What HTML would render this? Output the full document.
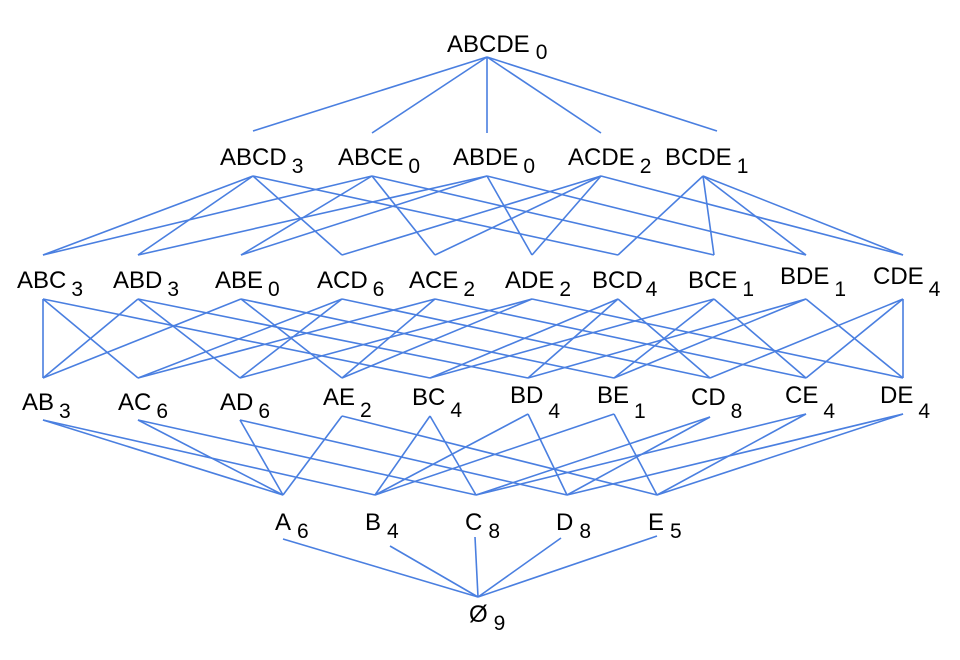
<!DOCTYPE html>
<html><head><meta charset="utf-8"><style>
html,body{margin:0;padding:0;background:#fff;}
svg{display:block;}
text{font-family:"Liberation Sans","DejaVu Sans",sans-serif;font-size:24px;fill:#000;}
.s{font-size:21px;}
line{stroke:#4a7fe0;stroke-width:1.6;}
</style></head><body>
<svg width="960" height="660" viewBox="0 0 960 660" xmlns="http://www.w3.org/2000/svg">
<g>
<line x1="487" y1="57" x2="253" y2="131"/><line x1="487" y1="57" x2="372" y2="133"/><line x1="487" y1="57" x2="487" y2="133"/><line x1="487" y1="57" x2="601" y2="133"/><line x1="487" y1="57" x2="717" y2="131"/>

<line x1="253" y1="176" x2="43" y2="255"/><line x1="253" y1="176" x2="138" y2="255"/><line x1="253" y1="176" x2="342" y2="255"/><line x1="253" y1="176" x2="618" y2="255"/>
<line x1="372" y1="176" x2="43" y2="255"/><line x1="372" y1="176" x2="241" y2="255"/><line x1="372" y1="176" x2="435" y2="255"/><line x1="372" y1="176" x2="714" y2="255"/>
<line x1="487" y1="176" x2="138" y2="255"/><line x1="487" y1="176" x2="241" y2="255"/><line x1="487" y1="176" x2="532" y2="255"/><line x1="487" y1="176" x2="806" y2="255"/>
<line x1="601" y1="176" x2="342" y2="255"/><line x1="601" y1="176" x2="435" y2="255"/><line x1="601" y1="176" x2="532" y2="255"/><line x1="601" y1="176" x2="903" y2="255"/>
<line x1="703" y1="176" x2="618" y2="255"/><line x1="703" y1="176" x2="714" y2="255"/><line x1="703" y1="176" x2="806" y2="255"/><line x1="703" y1="176" x2="903" y2="255"/>

<line x1="43" y1="299" x2="43" y2="378"/><line x1="43" y1="299" x2="138" y2="378"/><line x1="43" y1="299" x2="430" y2="378"/>
<line x1="138" y1="299" x2="43" y2="378"/><line x1="138" y1="299" x2="240" y2="378"/><line x1="138" y1="299" x2="528" y2="378"/>
<line x1="241" y1="299" x2="43" y2="378"/><line x1="241" y1="299" x2="342" y2="378"/><line x1="241" y1="299" x2="614" y2="378"/>
<line x1="342" y1="299" x2="138" y2="378"/><line x1="342" y1="299" x2="240" y2="378"/><line x1="342" y1="299" x2="710" y2="378"/>
<line x1="435" y1="299" x2="138" y2="378"/><line x1="435" y1="299" x2="342" y2="378"/><line x1="435" y1="299" x2="806" y2="378"/>
<line x1="532" y1="299" x2="240" y2="378"/><line x1="532" y1="299" x2="342" y2="378"/><line x1="532" y1="299" x2="903" y2="378"/>
<line x1="618" y1="299" x2="430" y2="378"/><line x1="618" y1="299" x2="528" y2="378"/><line x1="618" y1="299" x2="710" y2="378"/>
<line x1="714" y1="299" x2="430" y2="378"/><line x1="714" y1="299" x2="614" y2="378"/><line x1="714" y1="299" x2="806" y2="378"/>
<line x1="806" y1="299" x2="528" y2="378"/><line x1="806" y1="299" x2="614" y2="378"/><line x1="806" y1="299" x2="903" y2="378"/>
<line x1="903" y1="299" x2="710" y2="378"/><line x1="903" y1="299" x2="806" y2="378"/><line x1="903" y1="299" x2="903" y2="378"/>

<line x1="43" y1="420" x2="283" y2="495"/><line x1="43" y1="420" x2="375" y2="495"/>
<line x1="138" y1="420" x2="283" y2="495"/><line x1="138" y1="420" x2="476" y2="495"/>
<line x1="240" y1="420" x2="283" y2="495"/><line x1="240" y1="420" x2="567" y2="495"/>
<line x1="342" y1="416" x2="283" y2="495"/><line x1="342" y1="416" x2="657" y2="495"/>
<line x1="430" y1="416" x2="375" y2="495"/><line x1="430" y1="416" x2="476" y2="495"/>
<line x1="528" y1="414" x2="375" y2="495"/><line x1="528" y1="414" x2="567" y2="495"/>
<line x1="614" y1="414" x2="375" y2="495"/><line x1="614" y1="414" x2="657" y2="495"/>
<line x1="710" y1="417" x2="476" y2="495"/><line x1="710" y1="417" x2="567" y2="495"/>
<line x1="806" y1="414" x2="476" y2="495"/><line x1="806" y1="414" x2="657" y2="495"/>
<line x1="903" y1="414" x2="567" y2="495"/><line x1="903" y1="414" x2="657" y2="495"/>

<line x1="283" y1="539" x2="478" y2="597"/><line x1="390" y1="546" x2="478" y2="597"/><line x1="475" y1="537" x2="478" y2="597"/><line x1="561" y1="538" x2="478" y2="597"/><line x1="657" y1="536" x2="478" y2="597"/>
</g>
<g>
<text x="447" y="52">ABCDE<tspan class="s" dx="6" dy="7">0</tspan></text>

<text x="220" y="165">ABCD<tspan class="s" dx="5" dy="8">3</tspan></text>
<text x="338" y="165">ABCE<tspan class="s" dx="5" dy="8">0</tspan></text>
<text x="453" y="165">ABDE<tspan class="s" dx="5" dy="8">0</tspan></text>
<text x="568" y="165">ACDE<tspan class="s" dx="5" dy="8">2</tspan></text>
<text x="665" y="165">BCDE<tspan class="s" dx="5" dy="8">1</tspan></text>

<text x="17" y="288">ABC<tspan class="s" dx="5" dy="8">3</tspan></text>
<text x="113" y="288">ABD<tspan class="s" dx="5" dy="8">3</tspan></text>
<text x="215" y="288">ABE<tspan class="s" dx="5" dy="8">0</tspan></text>
<text x="317" y="288">ACD<tspan class="s" dx="5" dy="8">6</tspan></text>
<text x="409" y="288">ACE<tspan class="s" dx="5" dy="8">2</tspan></text>
<text x="505" y="288">ADE<tspan class="s" dx="5" dy="8">2</tspan></text>
<text x="592" y="288">BCD<tspan class="s" dx="3" dy="8">4</tspan></text>
<text x="688" y="288">BCE<tspan class="s" dx="5" dy="8">1</tspan></text>
<text x="780" y="284">BDE<tspan class="s" dx="5" dy="12">1</tspan></text>
<text x="873" y="284">CDE<tspan class="s" dx="5" dy="12">4</tspan></text>

<text x="22" y="410">AB<tspan class="s" dx="5" dy="8">3</tspan></text>
<text x="118" y="410">AC<tspan class="s" dx="5" dy="8">6</tspan></text>
<text x="220" y="410">AD<tspan class="s" dx="5" dy="8">6</tspan></text>
<text x="323" y="405">AE<tspan class="s" dx="5" dy="12">2</tspan></text>
<text x="412" y="405">BC<tspan class="s" dx="5" dy="12">4</tspan></text>
<text x="510" y="403">BD<tspan class="s" dx="5" dy="15">4</tspan></text>
<text x="597" y="403">BE<tspan class="s" dx="5" dy="15">1</tspan></text>
<text x="691" y="405">CD<tspan class="s" dx="5" dy="13">8</tspan></text>
<text x="785" y="403">CE<tspan class="s" dx="5" dy="15">4</tspan></text>
<text x="880" y="403">DE<tspan class="s" dx="5" dy="15">4</tspan></text>

<text x="275" y="530">A<tspan class="s" dx="6" dy="8">6</tspan></text>
<text x="365" y="530">B<tspan class="s" dx="6" dy="8">4</tspan></text>
<text x="465" y="530">C<tspan class="s" dx="6" dy="8">8</tspan></text>
<text x="556" y="530">D<tspan class="s" dx="6" dy="8">8</tspan></text>
<text x="648" y="530">E<tspan class="s" dx="6" dy="8">5</tspan></text>

<text x="469" y="622">Ø<tspan class="s" dx="6" dy="8">9</tspan></text>
</g>
</svg>
</body></html>
